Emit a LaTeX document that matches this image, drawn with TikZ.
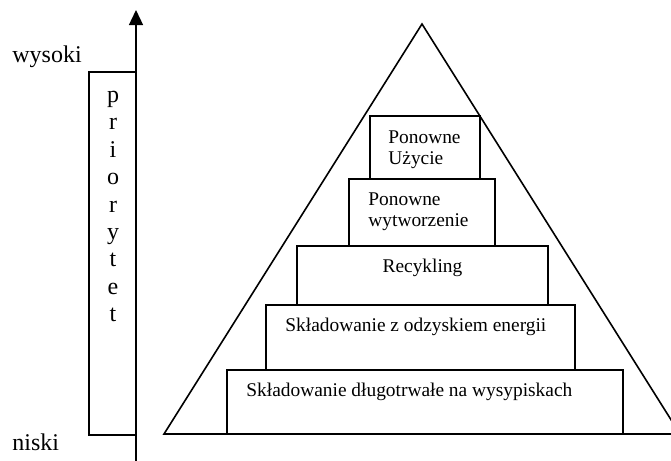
\documentclass[tikz,border=0pt]{standalone}
\usepackage{fontspec}
\setmainfont{Liberation Serif}
\usetikzlibrary{arrows.meta, positioning, calc}
\tikzset{
  x=0.5pt, y=-0.5pt,
  >={Triangle[length=7.5pt, width=7pt]},
  tier/.style={rectangle, draw=black, line width=1pt, outer sep=0pt, inner sep=0pt},
  lbl/.style={font=\fontsize{9.7}{10.5}\selectfont, inner sep=0pt, align=left},
  side/.style={font=\fontsize{12}{14}\selectfont, inner sep=0pt},
  axis/.style={->, line width=0.65pt},
  pyr/.style={line width=0.8pt, line join=miter},
}

\begin{document}
\begin{tikzpicture}
  \useasboundingbox (0,0) rectangle (671,461);
  \clip (0,0) rectangle (671,461);
  % pyramid
  \coordinate (apex) at (422,24);
  \coordinate (lft) at (164,434);
  \coordinate (rgt) at (680,434);
  \draw[pyr] (apex) -- (rgt) -- (lft) -- cycle;
  % tiers, bottom up
  \node[tier, minimum width=198pt, minimum height=32pt] (dlugo) at (425,402) {};
  \node[tier, minimum width=154.5pt, minimum height=32.5pt, above=0pt of dlugo, xshift=-2.25pt] (odzysk) {};
  \node[tier, minimum width=125.5pt, minimum height=29.5pt, above=0pt of odzysk, xshift=1pt] (recykl) {};
  \node[tier, minimum width=73pt, minimum height=33.5pt, above=0pt of recykl, xshift=-0.25pt] (wytw) {};
  \node[tier, minimum width=55pt, minimum height=31.5pt, above=0pt of wytw, xshift=1.5pt] (uzycie) {};
  \node[lbl, anchor=base west] (tdlugo) at ($(dlugo.north west)+(19,26)$) {Składowanie długotrwałe na wysypiskach};
  \node[lbl, anchor=base west] (todzysk) at ($(odzysk.north west)+(19,26)$) {Składowanie z odzyskiem energii};
  \node[lbl, anchor=base] (trecykl) at ($(recykl.north)+(0,26)$) {Recykling};
  \node[lbl, anchor=base west] (twytw) at ($(wytw.north west)+(19,47)$) {Ponowne\\wytworzenie};
  \node[lbl, anchor=base west] (tuzycie) at ($(uzycie.north west)+(18,48)$) {Ponowne\\Użycie};
  % priority axis
  \node[tier, minimum width=23.5pt, minimum height=181.5pt] (prio) at (112.5,253.5) {};
  \foreach \c [count=\i from 0] in {p,r,i,o,r,y,t,e,t}
    \node[side, anchor=base] (prio\i) at (113,102.5+27.4*\i) {\c};
  \node[side, anchor=base west] (hi) at (12,62) {wysoki};
  \node[side, anchor=base west] (lo) at (12,450) {niski};
  \coordinate (axlo) at (136,461);
  \coordinate (axhi) at (136,10);
  \draw[axis] (axlo) -- (axhi);
\end{tikzpicture}
\end{document}
